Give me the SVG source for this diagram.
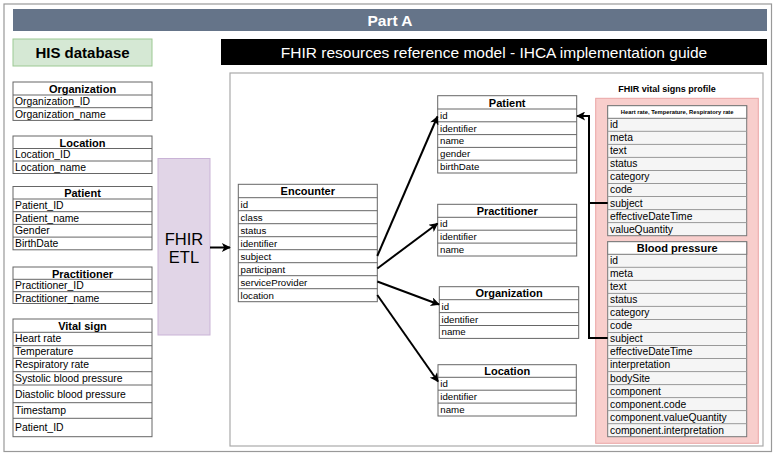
<svg xmlns="http://www.w3.org/2000/svg" width="776" height="456" viewBox="0 0 776 456">
<style>
text{font-family:"Liberation Sans",Arial,Helvetica,sans-serif;fill:#000}
.tb{fill:#fff;stroke:#666;stroke-width:1}
.vt{fill:#f5f5f5;stroke:#777;stroke-width:1}
.rl{stroke:#666;stroke-width:1}
.vl{stroke:#999;stroke-width:1}
.h{font-weight:bold;font-size:11px;text-anchor:middle}
.r{font-size:10.4px}
.f{font-size:9.7px}
.v{font-size:10.3px}
.edge{fill:none;stroke:#000;stroke-width:2}
</style>
<defs>
<marker id="arr" viewBox="0 0 10 10" refX="9" refY="5" markerWidth="10" markerHeight="9" markerUnits="userSpaceOnUse" orient="auto">
<path d="M0,0 L10,5 L0,10 L2.5,5 z" fill="#000"/>
</marker>
</defs>
<rect x="0" y="0" width="776" height="456" fill="#fff"/>
<rect x="4" y="4" width="767.5" height="447.5" fill="#fff" stroke="#999" stroke-width="1.2"/>

<g id="title">
<rect x="13" y="9" width="754" height="22" fill="#657489"/>
<text x="390" y="26" font-size="15.5" font-weight="bold" text-anchor="middle" style="fill:#fff">Part A</text>
</g>

<g id="his-title">
<rect x="13" y="39" width="139" height="27" fill="#d5e8d4" stroke="#9cc993" stroke-width="1"/>
<text x="82.5" y="58" font-size="15" font-weight="bold" text-anchor="middle">HIS database</text>
</g>

<g id="fhir-title">
<rect x="221" y="39" width="546" height="26" fill="#000"/>
<text x="494" y="57.5" font-size="15.5" text-anchor="middle" style="fill:#fff">FHIR resources reference model - IHCA implementation guide</text>
</g>

<rect id="fhir-frame" x="230" y="73" width="533" height="373" fill="#fff" stroke="#aaa" stroke-width="1.2"/>

<g id="his-organization">
<rect class="tb" x="13" y="82" width="139" height="38.4"/>
<line class="rl" x1="13" y1="95" x2="152" y2="95"/>
<line class="rl" x1="13" y1="107.7" x2="152" y2="107.7"/>
<text class="h" x="82.5" y="92.8">Organization</text>
<text class="r" x="15" y="105">Organization_ID</text>
<text class="r" x="15" y="117.7">Organization_name</text>
</g>

<g id="his-location">
<rect class="tb" x="13" y="136" width="139" height="37.5"/>
<line class="rl" x1="13" y1="148.5" x2="152" y2="148.5"/>
<line class="rl" x1="13" y1="161" x2="152" y2="161"/>
<text class="h" x="82.5" y="146.5">Location</text>
<text class="r" x="15" y="158.3">Location_ID</text>
<text class="r" x="15" y="170.8">Location_name</text>
</g>

<g id="his-patient">
<rect class="tb" x="13" y="186.5" width="139" height="63.3"/>
<line class="rl" x1="13" y1="199" x2="152" y2="199"/>
<line class="rl" x1="13" y1="211.7" x2="152" y2="211.7"/>
<line class="rl" x1="13" y1="224.4" x2="152" y2="224.4"/>
<line class="rl" x1="13" y1="237.1" x2="152" y2="237.1"/>
<text class="h" x="82.5" y="197">Patient</text>
<text class="r" x="15" y="208.8">Patient_ID</text>
<text class="r" x="15" y="221.5">Patient_name</text>
<text class="r" x="15" y="234.2">Gender</text>
<text class="r" x="15" y="246.9">BirthDate</text>
</g>

<g id="his-practitioner">
<rect class="tb" x="13" y="267" width="139" height="36.5"/>
<line class="rl" x1="13" y1="279.3" x2="152" y2="279.3"/>
<line class="rl" x1="13" y1="291.7" x2="152" y2="291.7"/>
<text class="h" x="82.5" y="277.5">Practitioner</text>
<text class="r" x="15" y="289.1">Practitioner_ID</text>
<text class="r" x="15" y="301.5">Practitioner_name</text>
</g>

<g id="his-vital-sign">
<rect class="tb" x="13" y="319" width="139" height="117.7"/>
<line class="rl" x1="13" y1="332.3" x2="152" y2="332.3"/>
<line class="rl" x1="13" y1="345.7" x2="152" y2="345.7"/>
<line class="rl" x1="13" y1="358.3" x2="152" y2="358.3"/>
<line class="rl" x1="13" y1="371.7" x2="152" y2="371.7"/>
<line class="rl" x1="13" y1="385" x2="152" y2="385"/>
<line class="rl" x1="13" y1="402.7" x2="152" y2="402.7"/>
<line class="rl" x1="13" y1="418.3" x2="152" y2="418.3"/>
<text class="h" x="82.5" y="329.8">Vital sign</text>
<text class="r" x="15" y="342.3">Heart rate</text>
<text class="r" x="15" y="355.3">Temperature</text>
<text class="r" x="15" y="368.3">Respiratory rate</text>
<text class="r" x="15" y="381.6">Systolic blood pressure</text>
<text class="r" x="15" y="397.5">Diastolic blood pressure</text>
<text class="r" x="15" y="414">Timestamp</text>
<text class="r" x="15" y="431">Patient_ID</text>
</g>

<g id="fhir-etl">
<rect x="158" y="158.5" width="52" height="176.5" fill="#e1d5e7" stroke="#c9b3d6" stroke-width="1"/>
<text x="184" y="244.5" font-size="16.5" text-anchor="middle">FHIR</text>
<text x="184" y="262.5" font-size="16.5" text-anchor="middle">ETL</text>
</g>

<g id="encounter">
<rect class="tb" x="238.3" y="184.3" width="139" height="117.4"/>
<line class="rl" x1="238.3" y1="197.7" x2="377.3" y2="197.7"/>
<line class="rl" x1="238.3" y1="210.7" x2="377.3" y2="210.7"/>
<line class="rl" x1="238.3" y1="223.7" x2="377.3" y2="223.7"/>
<line class="rl" x1="238.3" y1="236.7" x2="377.3" y2="236.7"/>
<line class="rl" x1="238.3" y1="249.7" x2="377.3" y2="249.7"/>
<line class="rl" x1="238.3" y1="262.7" x2="377.3" y2="262.7"/>
<line class="rl" x1="238.3" y1="275.7" x2="377.3" y2="275.7"/>
<line class="rl" x1="238.3" y1="288.7" x2="377.3" y2="288.7"/>
<text class="h" x="307.8" y="195.3">Encounter</text>
<text class="f" x="240.5" y="207.5">id</text>
<text class="f" x="240.5" y="220.5">class</text>
<text class="f" x="240.5" y="233.5">status</text>
<text class="f" x="240.5" y="246.5">identifier</text>
<text class="f" x="240.5" y="259.5">subject</text>
<text class="f" x="240.5" y="272.5">participant</text>
<text class="f" x="240.5" y="285.5">serviceProvider</text>
<text class="f" x="240.5" y="298.5">location</text>
</g>

<g id="fhir-patient">
<rect class="tb" x="437.7" y="95.7" width="139" height="77.3"/>
<line class="rl" x1="437.7" y1="109" x2="576.7" y2="109"/>
<line class="rl" x1="437.7" y1="121.8" x2="576.7" y2="121.8"/>
<line class="rl" x1="437.7" y1="134.6" x2="576.7" y2="134.6"/>
<line class="rl" x1="437.7" y1="147.4" x2="576.7" y2="147.4"/>
<line class="rl" x1="437.7" y1="160.2" x2="576.7" y2="160.2"/>
<text class="h" x="507.2" y="106.6">Patient</text>
<text class="f" x="440" y="118.8">id</text>
<text class="f" x="440" y="131.6">identifier</text>
<text class="f" x="440" y="144.4">name</text>
<text class="f" x="440" y="157.2">gender</text>
<text class="f" x="440" y="170">birthDate</text>
</g>

<g id="fhir-practitioner">
<rect class="tb" x="437.7" y="204.3" width="139" height="51.7"/>
<line class="rl" x1="437.7" y1="217.3" x2="576.7" y2="217.3"/>
<line class="rl" x1="437.7" y1="230.2" x2="576.7" y2="230.2"/>
<line class="rl" x1="437.7" y1="243.1" x2="576.7" y2="243.1"/>
<text class="h" x="507.2" y="215">Practitioner</text>
<text class="f" x="440" y="227.2">id</text>
<text class="f" x="440" y="240.1">identifier</text>
<text class="f" x="440" y="253">name</text>
</g>

<g id="fhir-organization">
<rect class="tb" x="439.3" y="286.7" width="139.4" height="51.7"/>
<line class="rl" x1="439.3" y1="299.7" x2="578.7" y2="299.7"/>
<line class="rl" x1="439.3" y1="312.6" x2="578.7" y2="312.6"/>
<line class="rl" x1="439.3" y1="325.5" x2="578.7" y2="325.5"/>
<text class="h" x="509" y="297.4">Organization</text>
<text class="f" x="441.5" y="309.6">id</text>
<text class="f" x="441.5" y="322.5">identifier</text>
<text class="f" x="441.5" y="335.4">name</text>
</g>

<g id="fhir-location">
<rect class="tb" x="438" y="364.7" width="138.3" height="51.3"/>
<line class="rl" x1="438" y1="377.3" x2="576.3" y2="377.3"/>
<line class="rl" x1="438" y1="390.2" x2="576.3" y2="390.2"/>
<line class="rl" x1="438" y1="403.1" x2="576.3" y2="403.1"/>
<text class="h" x="507.2" y="375">Location</text>
<text class="f" x="440.3" y="387.2">id</text>
<text class="f" x="440.3" y="400.1">identifier</text>
<text class="f" x="440.3" y="413">name</text>
</g>

<g id="vital-signs-profile">
<text x="667" y="91.5" font-size="9" font-weight="bold" text-anchor="middle">FHIR vital signs profile</text>
<rect x="595.7" y="98.3" width="162.6" height="345" fill="#f8cecc" stroke="#eaa5a5" stroke-width="1"/>
</g>

<g id="heart-rate-temperature-respiratory">
<rect class="vt" x="607.7" y="105.7" width="139" height="130"/>
<rect x="607.7" y="105.7" width="139" height="12.6" fill="#fff" stroke="#777" stroke-width="1"/>
<line class="vl" x1="607.7" y1="131.3" x2="746.7" y2="131.3"/>
<line class="vl" x1="607.7" y1="144.4" x2="746.7" y2="144.4"/>
<line class="vl" x1="607.7" y1="157.4" x2="746.7" y2="157.4"/>
<line class="vl" x1="607.7" y1="170.5" x2="746.7" y2="170.5"/>
<line class="vl" x1="607.7" y1="183.5" x2="746.7" y2="183.5"/>
<line class="vl" x1="607.7" y1="196.5" x2="746.7" y2="196.5"/>
<line class="vl" x1="607.7" y1="209.6" x2="746.7" y2="209.6"/>
<line class="vl" x1="607.7" y1="222.6" x2="746.7" y2="222.6"/>
<text x="677.2" y="114.3" font-size="5.8" font-weight="bold" text-anchor="middle">Heart rate, Temperature, Respiratory rate</text>
<text class="v" x="610" y="128.2">id</text>
<text class="v" x="610" y="141.3">meta</text>
<text class="v" x="610" y="154.3">text</text>
<text class="v" x="610" y="167.4">status</text>
<text class="v" x="610" y="180.4">category</text>
<text class="v" x="610" y="193.4">code</text>
<text class="v" x="610" y="206.5">subject</text>
<text class="v" x="610" y="219.5">effectiveDateTime</text>
<text class="v" x="610" y="232.6">valueQuantity</text>
</g>

<g id="blood-pressure">
<rect class="vt" x="607.7" y="241.7" width="139" height="195"/>
<rect x="607.7" y="241.7" width="139" height="12.6" fill="#fff" stroke="#777" stroke-width="1"/>
<line class="vl" x1="607.7" y1="267.3" x2="746.7" y2="267.3"/>
<line class="vl" x1="607.7" y1="280.4" x2="746.7" y2="280.4"/>
<line class="vl" x1="607.7" y1="293.4" x2="746.7" y2="293.4"/>
<line class="vl" x1="607.7" y1="306.4" x2="746.7" y2="306.4"/>
<line class="vl" x1="607.7" y1="319.5" x2="746.7" y2="319.5"/>
<line class="vl" x1="607.7" y1="332.5" x2="746.7" y2="332.5"/>
<line class="vl" x1="607.7" y1="345.5" x2="746.7" y2="345.5"/>
<line class="vl" x1="607.7" y1="358.5" x2="746.7" y2="358.5"/>
<line class="vl" x1="607.7" y1="371.6" x2="746.7" y2="371.6"/>
<line class="vl" x1="607.7" y1="384.6" x2="746.7" y2="384.6"/>
<line class="vl" x1="607.7" y1="397.6" x2="746.7" y2="397.6"/>
<line class="vl" x1="607.7" y1="410.6" x2="746.7" y2="410.6"/>
<line class="vl" x1="607.7" y1="423.7" x2="746.7" y2="423.7"/>
<text class="h" x="677.2" y="252">Blood pressure</text>
<text class="v" x="610" y="264.2">id</text>
<text class="v" x="610" y="277.2">meta</text>
<text class="v" x="610" y="290.3">text</text>
<text class="v" x="610" y="303.3">status</text>
<text class="v" x="610" y="316.3">category</text>
<text class="v" x="610" y="329.4">code</text>
<text class="v" x="610" y="342.4">subject</text>
<text class="v" x="610" y="355.4">effectiveDateTime</text>
<text class="v" x="610" y="368.4">interpretation</text>
<text class="v" x="610" y="381.5">bodySite</text>
<text class="v" x="610" y="394.5">component</text>
<text class="v" x="610" y="407.5">component.code</text>
<text class="v" x="610" y="420.5">component.valueQuantity</text>
<text class="v" x="610" y="433.6">component.interpretation</text>
</g>

<g id="connectors">
<path class="edge" d="M210,247.5 H230" marker-end="url(#arr)"/>
<path class="edge" d="M377.3,256 L437.5,116.5" marker-end="url(#arr)"/>
<path class="edge" d="M377.3,268.5 L437.5,223.5" marker-end="url(#arr)"/>
<path class="edge" d="M377.3,281.5 L439,304.5" marker-end="url(#arr)"/>
<path class="edge" d="M377.3,295 L438,381.5" marker-end="url(#arr)"/>
<path class="edge" d="M607.7,203 H589 V116 H577" marker-end="url(#arr)"/>
<path class="edge" d="M607.7,338 H589 V203"/>
</g>
</svg>
